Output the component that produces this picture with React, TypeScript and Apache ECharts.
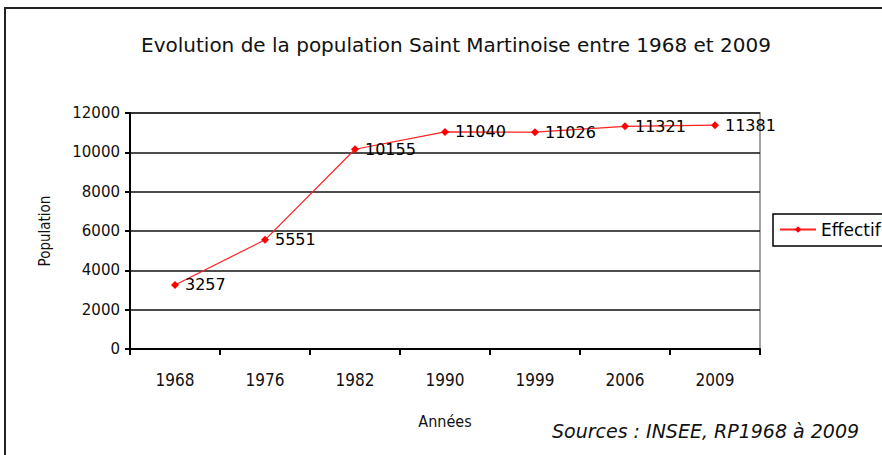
import React, { useEffect, useRef } from "react";
import * as echarts from "echarts";

const categories = ["1968", "1976", "1982", "1990", "1999", "2006", "2009"];
const effectif = [3257, 5551, 10155, 11040, 11026, 11321, 11381];
const titleText = "Evolution de la population Saint Martinoise entre 1968 et 2009";
const sourceText = "Sources : INSEE, RP1968 à 2009";
const seriesName = "Effectif";

export default function App() {
  const ref = useRef<HTMLDivElement>(null);
  useEffect(() => {
    document.body.style.margin = "0";
    const chart = echarts.init(ref.current!, null, { renderer: "svg" });
    chart.setOption({
      animation: false,
      backgroundColor: "#ffffff",
      title: {
        text: titleText,
        left: 451,
        textAlign: "center",
        top: 30,
        textStyle: { fontFamily: "DejaVu Sans", fontWeight: "normal", fontSize: 20, color: "#111" },
      },
      legend: {
        left: 773,
        top: 214,
        orient: "vertical",
        data: [seriesName],
        borderWidth: 0,
        padding: [7, 0, 7, 6],
        itemWidth: 36,
        itemHeight: 8,
        itemGap: 4,
        textStyle: { fontFamily: "DejaVu Sans", fontSize: 17, color: "#000" },
      },
      grid: {
        left: 130,
        top: 113,
        right: 122,
        bottom: 106,
        show: true,
        borderColor: "#888",
        borderWidth: 1.5,
      },
      xAxis: {
        type: "category",
        data: categories,
        boundaryGap: true,
        name: "Années",
        nameLocation: "middle",
        nameGap: 64,
        nameTextStyle: { fontFamily: "DejaVu Sans Condensed", fontSize: 16, color: "#111" },
        axisLine: { lineStyle: { color: "#000", width: 2 } },
        axisTick: { show: true, length: 6, alignWithLabel: false, lineStyle: { color: "#000", width: 2 } },
        axisLabel: { margin: 22, fontFamily: "DejaVu Sans Condensed", fontSize: 17, color: "#111" },
      },
      yAxis: {
        type: "value",
        min: 0,
        max: 12000,
        interval: 2000,
        name: "Population",
        nameLocation: "middle",
        nameGap: 78,
        nameRotate: 90,
        nameTextStyle: { fontFamily: "DejaVu Sans Condensed", fontSize: 15, color: "#111" },
        axisLine: { show: true, lineStyle: { color: "#000", width: 2 } },
        axisTick: { show: true, length: 5, lineStyle: { color: "#000", width: 2 } },
        axisLabel: {
          margin: 10,
          fontFamily: "DejaVu Sans",
          fontSize: 15,
          color: "#111",
          formatter: (v: number) => String(v),
        },
        splitLine: { show: true, lineStyle: { color: "#111", width: 1.5 } },
      },
      series: [
        {
          name: seriesName,
          type: "line",
          data: effectif,
          symbol: "diamond",
          symbolSize: 8,
          itemStyle: { color: "#ff0000" },
          lineStyle: { color: "#ff2020", width: 1.2 },
          label: {
            show: true,
            position: "right",
            distance: 6,
            fontFamily: "DejaVu Sans",
            fontSize: 16,
            color: "#000",
          },
        },
      ],
      graphic: [
        {
          type: "rect",
          shape: { x: 5, y: 8, width: 1000, height: 600 },
          style: { fill: "none", stroke: "#222", lineWidth: 2 },
          silent: true,
        },
        {
          type: "rect",
          shape: { x: 773, y: 214, width: 200, height: 32 },
          style: { fill: "none", stroke: "#000", lineWidth: 1.5 },
          silent: true,
        },
        {
          type: "text",
          left: 552,
          top: 421,
          style: {
            text: sourceText,
            fontFamily: "DejaVu Sans",
            fontStyle: "italic",
            fontSize: 19,
            fill: "#111",
          },
        },
      ],
    });
    return () => chart.dispose();
  }, []);
  return <div ref={ref} style={{ position: "fixed", left: 0, top: 0, width: 882, height: 455 }} />;
}
